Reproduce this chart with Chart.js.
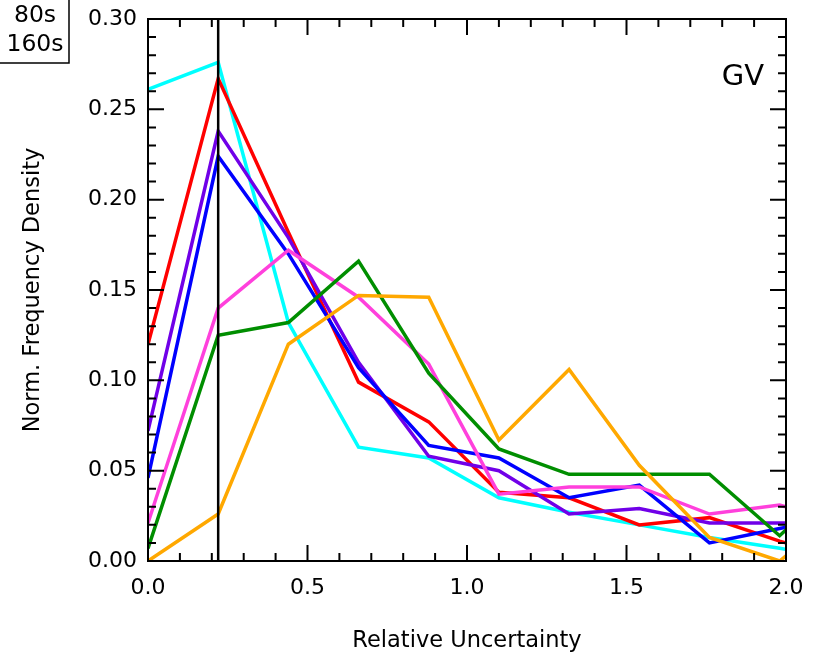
<!DOCTYPE html>
<html>
<head>
<meta charset="utf-8">
<script src="https://cdn.jsdelivr.net/npm/chart.js@4/dist/chart.umd.min.js"></script>
<style>
  html, body { margin: 0; padding: 0; background: #fff; }
  canvas { display: block; }
</style>
</head>
<body>
<canvas id="c" width="818" height="663"></canvas>
<script>
// ---- data ----
const binX = [0, 0.22, 0.44, 0.66, 0.88, 1.10, 1.32, 1.54, 1.76, 1.98, 2.20];
const cyanSeries    = [0.261, 0.276, 0.132, 0.063, 0.057, 0.035, 0.027, 0.020, 0.013, 0.007, 0.001];
const redSeries     = [0.120, 0.267, 0.182, 0.099, 0.077, 0.038, 0.035, 0.020, 0.024, 0.011, 0.000];
const purpleSeries  = [0.072, 0.238, 0.179, 0.110, 0.058, 0.050, 0.026, 0.029, 0.021, 0.021, 0.021];
const blueSeries    = [0.046, 0.224, 0.170, 0.107, 0.064, 0.057, 0.035, 0.042, 0.010, 0.018, 0.026];
const magentaSeries = [0.021, 0.140, 0.172, 0.146, 0.109, 0.037, 0.041, 0.041, 0.026, 0.031, 0.020];
const greenSeries   = [0.007, 0.125, 0.132, 0.166, 0.104, 0.062, 0.048, 0.048, 0.048, 0.014, 0.050];
const orangeSeries  = [0.000, 0.026, 0.120, 0.147, 0.146, 0.067, 0.106, 0.053, 0.013, 0.000, 0.031];
const markerX = 0.22;
const legendLines = ['80s', '160s'];
const panelLabel = 'GV';
const xTitle = 'Relative Uncertainty';
const yTitle = 'Norm. Frequency Density';

const FONT = '"DejaVu Sans", sans-serif';

function pts(ys) { return ys.map((y, i) => ({ x: binX[i], y })); }
function ds(ys, color) {
  return { data: pts(ys), borderColor: color, borderWidth: 3.5, pointRadius: 0, tension: 0, fill: false, clip: 1 };
}

const framePlugin = {
  id: 'frame',
  afterDatasetsDraw(chart) {
    const { ctx, chartArea: a, scales: { x, y } } = chart;
    ctx.save();
    ctx.strokeStyle = '#000';
    // vertical marker line
    ctx.lineWidth = 2.5;
    const mx = x.getPixelForValue(markerX);
    ctx.beginPath(); ctx.moveTo(mx, a.top); ctx.lineTo(mx, a.bottom); ctx.stroke();
    // frame
    ctx.lineWidth = 2;
    ctx.strokeRect(a.left, a.top, a.right - a.left, a.bottom - a.top);
    // ticks
    const maj = 16, min = 8;
    ctx.beginPath();
    for (let i = 0; i <= 20; i++) {
      const px = x.getPixelForValue(i * 0.1);
      const L = (i % 5 === 0) ? maj : min;
      ctx.moveTo(px, a.bottom); ctx.lineTo(px, a.bottom - L);
      ctx.moveTo(px, a.top); ctx.lineTo(px, a.top + L);
    }
    for (let i = 0; i <= 30; i++) {
      const py = y.getPixelForValue(i * 0.01);
      const L = (i % 5 === 0) ? maj : min;
      ctx.moveTo(a.left, py); ctx.lineTo(a.left + L, py);
      ctx.moveTo(a.right, py); ctx.lineTo(a.right - L, py);
    }
    ctx.stroke();
    // panel label
    ctx.fillStyle = '#000';
    ctx.font = '29px ' + FONT;
    ctx.textAlign = 'right'; ctx.textBaseline = 'alphabetic';
    ctx.fillText(panelLabel, 764, 85);
    // axis titles
    ctx.font = '22.5px ' + FONT;
    ctx.textAlign = 'center'; ctx.textBaseline = 'middle';
    ctx.fillText(xTitle, (a.left + a.right) / 2, 641);
    ctx.save();
    ctx.translate(33, (a.top + a.bottom) / 2);
    ctx.rotate(-Math.PI / 2);
    ctx.fillText(yTitle, 0, 0);
    ctx.restore();
    // legend box (cut off at the top-left)
    ctx.lineWidth = 1.5;
    ctx.beginPath();
    ctx.moveTo(69, -2); ctx.lineTo(69, 63); ctx.lineTo(-2, 63);
    ctx.stroke();
    ctx.font = '23.5px ' + FONT;
    ctx.textAlign = 'center'; ctx.textBaseline = 'alphabetic';
    ctx.fillText(legendLines[0], 35, 22);
    ctx.fillText(legendLines[1], 35, 51);
    ctx.restore();
  }
};

new Chart(document.getElementById('c'), {
  type: 'line',
  data: {
    datasets: [
      ds(orangeSeries, '#FFA800'),
      ds(greenSeries, '#008E00'),
      ds(magentaSeries, '#FF40DC'),
      ds(blueSeries, '#0000FF'),
      ds(purpleSeries, '#7000E8'),
      ds(redSeries, '#FF0000'),
      ds(cyanSeries, '#00FFFF')
    ]
  },
  options: {
    responsive: false,
    animation: false,
    devicePixelRatio: 1,
    layout: { padding: { left: 0, top: 19, right: 32, bottom: 0 } },
    plugins: { legend: { display: false }, tooltip: { enabled: false } },
    scales: {
      x: {
        type: 'linear', min: 0, max: 2,
        grid: { display: false, drawTicks: false },
        border: { display: false },
        ticks: { stepSize: 0.5, color: '#000', padding: 14, font: { family: FONT, size: 22 }, maxRotation: 0,
                 callback: v => Number(v).toFixed(1) },
        afterFit: s => { s.height = 102; s.paddingLeft = 0; s.paddingRight = 0; }
      },
      y: {
        type: 'linear', min: 0, max: 0.3,
        grid: { display: false, drawTicks: false },
        border: { display: false },
        ticks: { stepSize: 0.05, color: '#000', padding: 11, font: { family: FONT, size: 22 },
                 callback: v => Number(v).toFixed(2) },
        afterFit: s => { s.width = 148; s.paddingTop = 0; s.paddingBottom = 0; }
      }
    }
  },
  plugins: [framePlugin]
});
</script>
</body>
</html>
